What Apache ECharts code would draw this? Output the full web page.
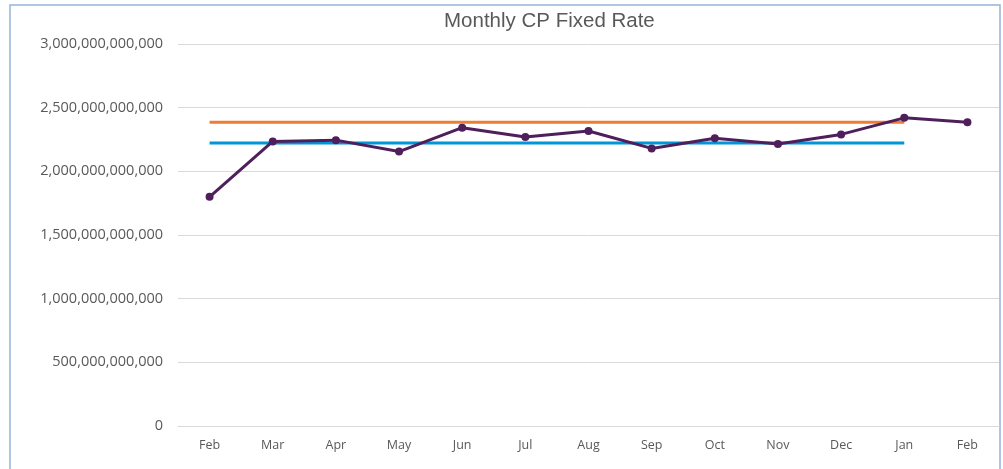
<!DOCTYPE html>
<html>
<head>
<meta charset="utf-8">
<script src="https://cdn.jsdelivr.net/npm/echarts@6/dist/echarts.min.js"></script>
<style>
html, body { margin: 0; padding: 0; background: #fff; }
#myChart { width: 1003px; height: 469px; }
</style>
</head>
<body>
<div id="myChart"></div>
<script>
// 月份
var months = ['Feb', 'Mar', 'Apr', 'May', 'Jun', 'Jul', 'Aug', 'Sep', 'Oct', 'Nov', 'Dec', 'Jan', 'Feb'];
// CP fixed rate (monthly)
var cpValues = [1.80e12, 2.235e12, 2.245e12, 2.155e12, 2.343e12, 2.27e12, 2.317e12, 2.18e12, 2.26e12, 2.215e12, 2.29e12, 2.42e12, 2.385e12];
// reference levels, drawn Feb..Jan
var upperLevel = 2.385e12;
var lowerLevel = 2.222e12;
var levelSpan = 12;

function levelData(v) {
    var arr = [];
    for (var i = 0; i < months.length; i++) arr.push(i < levelSpan ? v : '-');
    return arr;
}

var labelFont = "'Open Sans', 'Noto Sans', sans-serif";
var myChart = echarts.init(document.getElementById('myChart'));
myChart.setOption({
    animation: false,
    title: {
        text: 'Monthly CP Fixed Rate',
        left: 439,
        top: 6,
        textStyle: {
            fontFamily: "'Liberation Sans Narrow', 'Liberation Sans', sans-serif",
            fontWeight: 'normal',
            fontSize: 20.5,
            color: '#595959'
        }
    },
    graphic: [{
        type: 'rect',
        shape: { x: 10, y: 5, width: 990, height: 480 },
        style: { fill: 'none', stroke: '#95b3d7', lineWidth: 1.5 },
        silent: true
    }],
    grid: { left: 178, right: 4, top: 44, bottom: 43 },
    xAxis: {
        type: 'category',
        data: months,
        boundaryGap: true,
        axisLine: { lineStyle: { color: '#d9d9d9' } },
        axisTick: { show: false },
        axisLabel: { color: '#595959', fontSize: 12.5, fontFamily: labelFont, margin: 13 }
    },
    yAxis: {
        type: 'value',
        min: 0,
        max: 3e12,
        interval: 5e11,
        axisLine: { show: false },
        axisTick: { show: false },
        splitLine: { lineStyle: { color: '#d9d9d9' } },
        axisLabel: {
            color: '#595959',
            fontSize: 14.5,
            fontFamily: labelFont,
            margin: 15,
            formatter: function (v) { return v.toLocaleString('en-US'); }
        }
    },
    series: [
        {
            name: 'upper',
            type: 'line',
            data: levelData(upperLevel),
            symbol: 'none',
            lineStyle: { color: '#ed7d31', width: 3 },
            z: 2
        },
        {
            name: 'lower',
            type: 'line',
            data: levelData(lowerLevel),
            symbol: 'none',
            lineStyle: { color: '#0096d8', width: 3 },
            z: 2
        },
        {
            name: 'CP Fixed Rate',
            type: 'line',
            data: cpValues,
            symbol: 'circle',
            symbolSize: 8,
            itemStyle: { color: '#4f1f5c' },
            lineStyle: { color: '#4f1f5c', width: 3 },
            z: 3
        }
    ]
});
</script>
</body>
</html>
